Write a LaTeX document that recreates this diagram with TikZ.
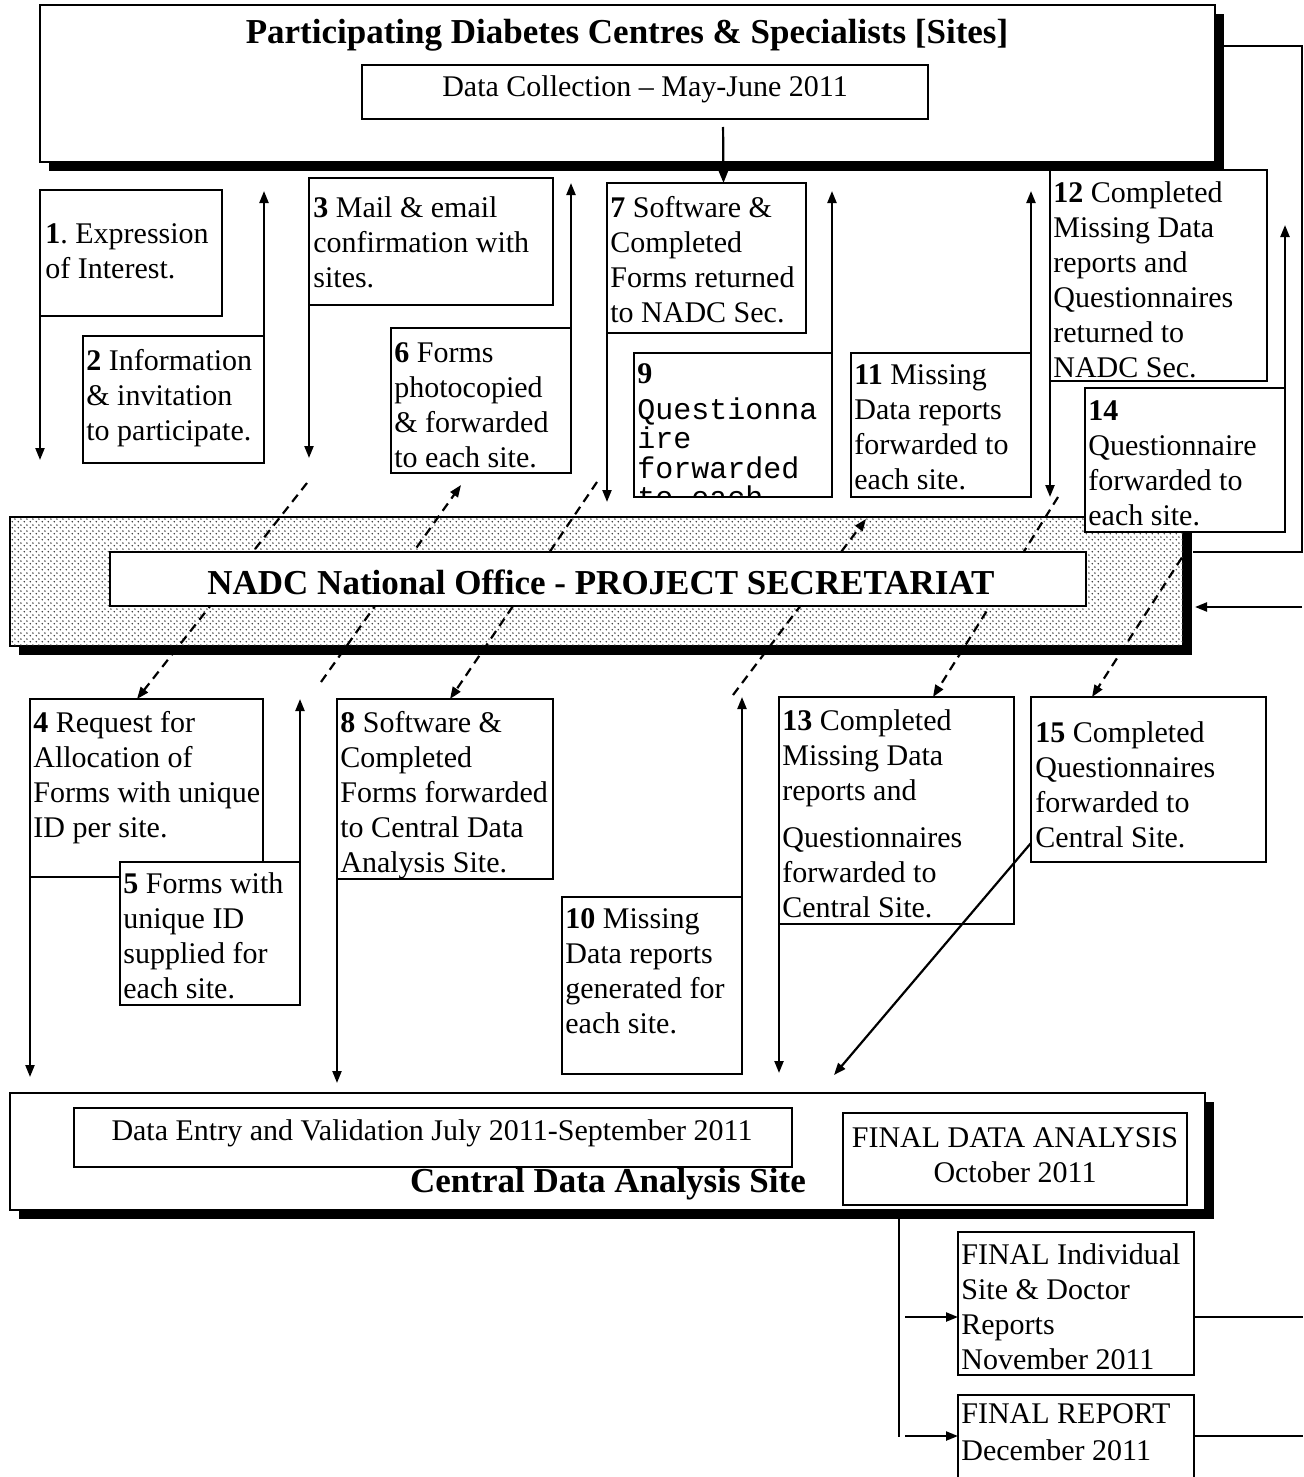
\documentclass[tikz,border=0pt]{standalone}
\usepackage{fontspec}
\setmainfont{Liberation Serif}
\setmonofont{Liberation Mono}
\usetikzlibrary{arrows.meta,patterns,shadows,fit,calc}
\frenchspacing

\pgfdeclarepatternformonly{sitedots}{\pgfpointorigin}{\pgfqpoint{2.8pt}{2.8pt}}{\pgfqpoint{2.8pt}{2.8pt}}{%
  \pgfpathcircle{\pgfqpoint{0.7pt}{0.7pt}}{0.45pt}%
  \pgfpathcircle{\pgfqpoint{2.1pt}{2.1pt}}{0.45pt}%
  \pgfusepath{fill}}

\newcommand{\fl}{\rule{0pt}{12pt}}

\begin{document}
\begin{tikzpicture}[x=0.5pt,y=-0.5pt,
  box/.style={draw, line width=1.2pt, fill=white, inner sep=0pt, outer sep=0pt},
  bigbox/.style={box, drop shadow={shadow xshift=4.5pt, shadow yshift=-4.5pt, fill=black, opacity=1}},
  txt/.style={anchor=north west, inner sep=0pt, align=left, font=\fontsize{15}{17.5}\selectfont},
  mono/.style={anchor=north west, inner sep=0pt, align=left, font=\ttfamily\fontsize{15}{14.7}\selectfont},
  head/.style={inner sep=0pt, anchor=base, font=\bfseries\fontsize{17.5}{21}\selectfont},
  plain/.style={inner sep=0pt, anchor=base, font=\fontsize{15}{17.5}\selectfont},
  arr/.style={line width=1.1pt, -{Triangle[length=6pt,width=4.5pt]}},
  darr/.style={arr, dash pattern=on 4.5pt off 3pt},
  thinline/.style={line width=0.7pt}
]
\useasboundingbox (0,0) rectangle (1304,1477);

% ---------- top: sites ----------
\node[bigbox, fit={(40,5) (1215,162)}] (sites) {};
\node[head] (title) at (627,44) {Participating Diabetes Centres \& Specialists [Sites]};
\node[box, fit={(362,65) (928,119)}] (dc) {};
\node[plain] (dct) at (645,97) {Data Collection – May-June 2011};

% ---------- upper step boxes ----------
\node[box, fit={(40,190) (222,316)}] (b1) {};
\node[txt] (t1) at (45,219) {\fl\textbf{1}. Expression\\of Interest.};
\node[box, fit={(83,336) (264,463)}] (b2) {};
\node[txt] (t2) at (86,346) {\fl\textbf{2} Information\\\& invitation\\to participate.};
\node[box, fit={(309,178) (553,305)}] (b3) {};
\node[txt] (t3) at (313,193) {\fl\textbf{3} Mail \& email\\confirmation with\\sites.};
\node[box, fit={(391,328) (571,473)}] (b6) {};
\node[txt] (t6) at (394,338) {\fl\textbf{6} Forms\\photocopied\\\& forwarded\\to each site.};
\node[box, fit={(607,183) (806,333)}] (b7) {};
\node[txt] (t7) at (610,193) {\fl\textbf{7} Software \&\\Completed\\Forms returned\\to NADC Sec.};
\node[box, fit={(634,353) (832,497)}] (b9) {};
\node[txt] (t9a) at (637,359) {\fl\textbf{9}};
\begin{scope}
  \clip (635,354) rectangle (831,495);
  \node[mono] (t9b) at (637,395) {\fl Questionna\\ire\\forwarded\\to each};
\end{scope}
\node[box, fit={(851,353) (1031,497)}] (b11) {};
\node[txt] (t11) at (854,360) {\fl\textbf{11} Missing\\Data reports\\forwarded to\\each site.};
\node[box, fit={(1050,170) (1267,381)}] (b12) {};
\node[txt] (t12) at (1053,178) {\fl\textbf{12} Completed\\Missing Data\\reports and\\Questionnaires\\returned to\\NADC Sec.};

% arrows in upper band
\draw[arr, shorten <=4pt] ([xshift=39pt]dc.south) -- ([xshift=8.5pt]b7.north);
\coordinate (e1) at (40,460);
\coordinate (e2) at (264,191);
\coordinate (e3) at (309,458);
\coordinate (e6) at (571,183);
\coordinate (e7) at (607,502);
\coordinate (e9) at (832,191);
\coordinate (e11) at (1031,191);
\coordinate (e12) at (1050,497);
\draw[arr] (b1.south west) -- (e1);
\draw[arr] (b2.north east) -- (e2);
\draw[arr] (b3.south west) -- (e3);
\draw[arr] (b6.north east) -- (e6);
\draw[arr] (b7.south west) -- (e7);
\draw[arr] (b9.north east) -- (e9);
\draw[arr] (b11.north east) -- (e11);
\draw[arr] (b12.south west) -- (e12);

% ---------- NADC secretariat ----------
\node[draw, line width=1.2pt, inner sep=0pt, outer sep=0pt, fill=white,
      drop shadow={shadow xshift=4.5pt, shadow yshift=-4.5pt, fill=black, opacity=1},
      postaction={pattern=sitedots, pattern color=black!80},
      fit={(10,517) (1183,646)}] (nadc) {};

% ---------- lower step boxes ----------
\node[box, fit={(30,699) (263,877)}] (b4) {};
\node[txt] (t4) at (33,708) {\fl\textbf{4} Request for\\Allocation of\\Forms with unique\\ID per site.};
\node[box, fit={(120,862) (300,1005)}] (b5) {};
\node[txt] (t5) at (123,869) {\fl\textbf{5} Forms with\\unique ID\\supplied for\\each site.};
\node[box, fit={(337,699) (553,879)}] (b8) {};
\node[txt] (t8) at (340,708) {\fl\textbf{8} Software \&\\Completed\\Forms forwarded\\to Central Data\\Analysis Site.};
\node[box, fit={(562,897) (742,1074)}] (b10) {};
\node[txt] (t10) at (565,904) {\fl\textbf{10} Missing\\Data reports\\generated for\\each site.};
\node[box, fit={(779,697) (1014,924)}] (b13) {};
\node[txt] (t13) at (782,706) {\fl\textbf{13} Completed\\Missing Data\\reports and\\[6pt]Questionnaires\\forwarded to\\Central Site.};
\node[box, fit={(1031,697) (1266,862)}] (b15) {};
\node[txt] (t15) at (1035,718) {\fl\textbf{15} Completed\\Questionnaires\\forwarded to\\Central Site.};

% ---------- dashed exchanges through the secretariat ----------
\coordinate (d1s) at (307,483);
\coordinate (d2s) at (321,682);
\coordinate (d3s) at (597,482);
\coordinate (d4s) at (733,695);
\coordinate (d5s) at (1058,497);
\coordinate (d6s) at (1190,545);
\draw[darr] (d1s) -- ($(b4.north west)+(107,0)$);
\draw[darr] (d2s) -- ($(b6.south west)+(70,12)$);
\draw[darr] (d3s) -- ($(b8.north west)+(113,0)$);
\draw[darr] (d4s) -- ($(nadc.north west)+(856,2)$);
\draw[darr] (d5s) -- ($(b13.north west)+(154,0)$);
\draw[darr] (d6s) -- ($(b15.north west)+(61,0)$);

\node[box, fit={(110,552) (1086,606)}] (nadcin) {};
\node[head] (nadct) at (601,594) {NADC National Office - PROJECT SECRETARIAT};

\node[box, fit={(1085,388) (1285,532)}] (b14) {};
\node[txt] (t14) at (1088,396) {\fl\textbf{14}\\Questionnaire\\forwarded to\\each site.};
\coordinate (e14) at (1285,225);
\draw[arr] (b14.north east) -- (e14);

% ---------- right-hand return lines ----------
\coordinate (rtop) at (1302,46);
\coordinate (rbot) at (1302,552);
\coordinate (rend) at (1193,552);
\draw[line width=0.9pt] ([yshift=-20.5pt]sites.north east) -- (rtop) -- (rbot) -- (rend);
\coordinate (rin) at (1302,607);
\draw[arr] (rin) -- ($(nadc.east |- rin)+(12,0)$);

% ---------- lower arrows ----------
\coordinate (e4) at (30,1077);
\coordinate (e5) at (300,699);
\coordinate (e8) at (337,1083);
\coordinate (e10) at (742,697);
\coordinate (e13) at (779,1073);
\coordinate (e15) at (834,1075);
\draw[arr] (b4.south west) -- (e4);
\draw[arr] (b5.north east) -- (e5);
\draw[arr] (b8.south west) -- (e8);
\draw[arr] (b10.north east) -- (e10);
\draw[arr] (b13.south west) -- (e13);
\draw[arr] ([yshift=9.5pt]b15.south west) -- (e15);

% ---------- central data analysis site ----------
\node[bigbox, fit={(10,1093) (1205,1210)}] (central) {};
\node[box, fit={(74,1108) (792,1167)}] (dein) {};
\node[plain] (deint) at (432,1140) {Data Entry and Validation July 2011-September 2011};
\node[head] (centralt) at (608,1192) {Central Data Analysis Site};
\node[box, fit={(843,1113) (1187,1205)}] (fda) {};
\node[plain] (fdat1) at (1015,1147) {FINAL DATA ANALYSIS};
\node[plain] (fdat2) at (1015,1182) {October 2011};

% ---------- final reports ----------
\node[box, fit={(958,1232) (1194,1375)}] (f1) {};
\node[txt] (tf1) at (961,1240) {\fl FINAL Individual\\Site \& Doctor\\Reports\\November 2011};
\node[box, fit={(958,1395) (1194,1520)}] (f2) {};
\node[txt] (tf2) at (961,1399) {\fl FINAL REPORT\\[1pt]December 2011};

\coordinate (vtop) at (899,1218);
\coordinate (vbot) at (899,1437);
\draw[thinline] (vtop) -- (vbot);
\coordinate (a1s) at (905,1317);
\coordinate (a2s) at (905,1436);
\draw[arr] (a1s) -- (a1s -| f1.west);
\draw[arr] (a2s) -- (a2s -| f2.west);
\coordinate (r1) at (1303,1317);
\coordinate (r2) at (1303,1436);
\draw[thinline] (r1 -| f1.east) -- (r1);
\draw[thinline] (r2 -| f2.east) -- (r2);
\end{tikzpicture}
\end{document}
